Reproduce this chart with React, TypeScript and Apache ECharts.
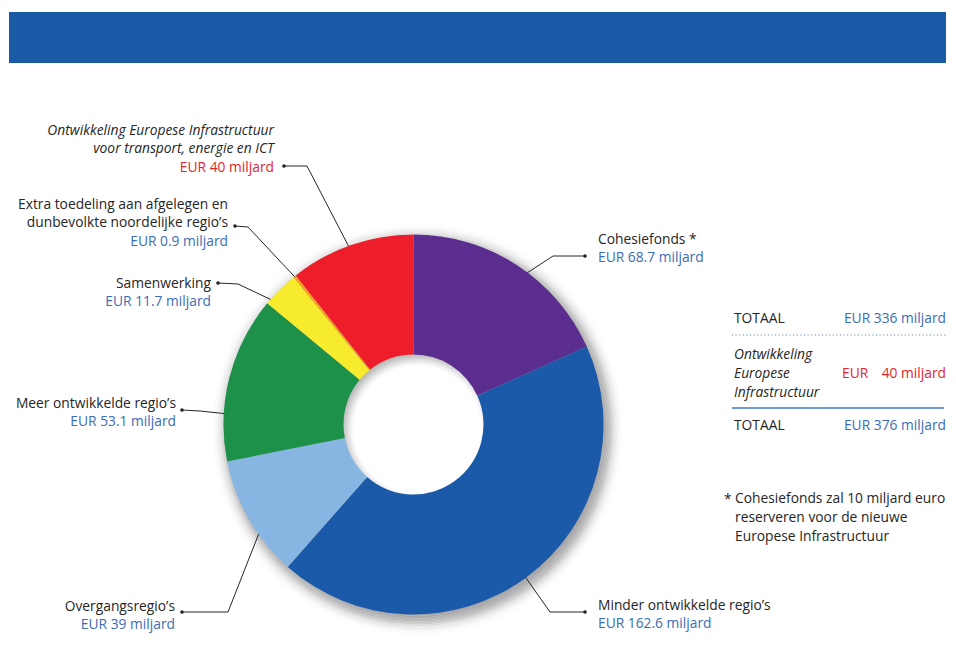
import React, { useEffect, useRef } from "react";
import * as echarts from "echarts";

// ---- data ----
const categories = [
  "Cohesiefonds *",
  "Minder ontwikkelde regio’s",
  "Overgangsregio’s",
  "Meer ontwikkelde regio’s",
  "Samenwerking",
  "Extra toedeling aan afgelegen en\ndunbevolkte noordelijke regio’s",
  "Ontwikkeling Europese Infrastructuur\nvoor transport, energie en ICT",
];
const values = [68.7, 162.6, 39, 53.1, 11.7, 0.9, 40];
const infraIndex = 6;
const footnoteLines = [
  "Cohesiefonds zal 10 miljard euro",
  "reserveren voor de nieuwe",
  "Europese Infrastructuur",
];
const infraTableLines = ["Ontwikkeling", "Europese", "Infrastructuur"];

// ---- styles / layout ----
const sliceColors = ["#5b2d8e", "#1b5aa8", "#86b6e1", "#1d914a", "#f6eb2c", "#f5a21e", "#ee1d2a"];
const BLUE_TXT = "#3b6db5";
const RED_TXT = "#e8232d";
const DARK = "#262626";
const FONT = "'Open Sans', sans-serif";
const FS = 13.8;
const LH = 18.5;
const CX = 413.5;
const CY = 424.5;
const R_IN = 70;
const R_OUT = 190;
const SH_DX = 4;
const SH_DY = 5;
// shadow profile: [distance from shadow centre, alpha]
const shadowProfile = [
  [64, 0],
  [68, 0.1],
  [74, 0.3],
  [80, 0.42],
  [186, 0.42],
  [192, 0.3],
  [197, 0.12],
  [202, 0.03],
  [206, 0],
];
const labelSide = ["r", "r", "l", "l", "l", "l", "l"];
const labelPos = [
  [598, 238],
  [598, 604],
  [175, 605],
  [176, 402],
  [211, 282],
  [228, 203],
  [274, 129],
];
const labelDot = [
  [585, 256],
  [585, 612],
  [182, 612],
  [182, 410],
  [218, 283],
  [235, 226],
  [284, 166],
];
const labelElbow = [
  [553, 256],
  [550, 612],
  [228, 612],
  [200, 411],
  [238, 284],
  [248, 227],
  [307, 166],
];
const anchorFrac = [0.54, 0.5, 0.41, 0.28, 0.28, 0.5, 0.5];
const anchorR = [178, 170, 180, 172, 173, 186, 170];

function shadowAlpha(d: number) {
  for (let k = 0; k < shadowProfile.length - 1; k++) {
    const [d0, a0] = shadowProfile[k];
    const [d1, a1] = shadowProfile[k + 1];
    if (d >= d0 && d <= d1) return a0 + ((a1 - a0) * (d - d0)) / (d1 - d0);
  }
  return 0;
}

function greyFor(a: number) {
  const c = (v: number) => Math.round(255 - a * (255 - v));
  const h = (n: number) => n.toString(16).padStart(2, "0");
  return "#" + h(c(45)) + h(c(45)) + h(c(50));
}

export default function App() {
  const ref = useRef<HTMLDivElement>(null);
  useEffect(() => {
    if (!ref.current) return;
    const chart = echarts.init(ref.current, undefined, { renderer: "svg" });
    const total = values.reduce((a, b) => a + b, 0);
    const starts: number[] = [];
    let acc = 0;
    values.forEach((v) => {
      starts.push(acc);
      acc += v;
    });
    const anchor = (i: number) => {
      const a = ((starts[i] + anchorFrac[i] * values[i]) / total) * Math.PI * 2;
      return [CX + anchorR[i] * Math.sin(a), CY - anchorR[i] * Math.cos(a)];
    };
    const fmtVal = (v: number) => `EUR ${v} miljard`;

    const data = values.map((v, i) => ({
      name: categories[i],
      value: v,
      itemStyle: { color: sliceColors[i] },
    }));

    const graphics: any[] = [
      { type: "rect", shape: { x: 9, y: 12, width: 937, height: 51 }, style: { fill: "#1a5ba8" } },
    ];
    // soft shadow made of thin opaque grey rings (blended against white)
    const bands: number[][] = [];
    const step = 1.5;
    for (let d = 64; d < 80; d += step) bands.push([d, Math.min(d + step, 80)]);
    bands.push([80, 186]);
    for (let d = 186; d < 206; d += step) bands.push([d, Math.min(d + step, 206)]);
    bands.forEach(([r0, r1]) => {
      const a = shadowAlpha((r0 + r1) / 2);
      if (a <= 0.004) return;
      graphics.push({
        type: "ring",
        silent: true,
        shape: { cx: CX + SH_DX, cy: CY + SH_DY, r: r1 + 0.3, r0 },
        style: { fill: greyFor(a) },
      });
    });
    labelDot.forEach((d) => {
      graphics.push({ type: "circle", shape: { cx: d[0], cy: d[1], r: 1.8 }, style: { fill: DARK }, z: 10 });
    });
    const txt = (text: string, x: number, y: number, fill: string, align = "left", italic = false) => ({
      type: "text",
      x,
      y,
      style: {
        text,
        fill,
        font: `${italic ? "italic " : ""}${FS}px ${FONT}`,
        textAlign: align,
        textVerticalAlign: "middle",
      },
    });
    const grand = total;
    const withoutInfra = Math.round((total - values[infraIndex]) * 10) / 10;
    graphics.push(txt("TOTAAL", 734, 317, DARK));
    graphics.push(txt(fmtVal(withoutInfra), 946, 317, BLUE_TXT, "right"));
    graphics.push({
      type: "line",
      shape: { x1: 732, y1: 335, x2: 946, y2: 335 },
      style: { stroke: "#4a7cc0", lineWidth: 1, lineDash: [1, 2.6] },
    });
    infraTableLines.forEach((t, k) => graphics.push(txt(t, 734, 353 + k * 19, DARK, "left", true)));
    graphics.push(txt("EUR", 842, 372, RED_TXT));
    graphics.push(txt(`${values[infraIndex]} miljard`, 946, 372, RED_TXT, "right"));
    graphics.push({
      type: "line",
      shape: { x1: 732, y1: 408, x2: 944, y2: 408 },
      style: { stroke: "#6b9bd2", lineWidth: 2 },
    });
    graphics.push(txt("TOTAAL", 734, 424, DARK));
    graphics.push(txt(fmtVal(Math.round(grand * 10) / 10), 946, 424, BLUE_TXT, "right"));
    graphics.push(txt("*", 724, 498, DARK));
    footnoteLines.forEach((t, k) => graphics.push(txt(t, 735, 497 + k * 19, DARK)));

    const rich: any = {};
    ["l", "r"].forEach((s) => {
      const align = s === "l" ? "right" : "left";
      rich["n" + s] = { color: DARK, fontSize: FS, fontFamily: FONT, lineHeight: LH, align };
      rich["i" + s] = { color: DARK, fontSize: FS, fontFamily: FONT, lineHeight: LH, align, fontStyle: "italic" };
      rich["v" + s] = { color: BLUE_TXT, fontSize: FS, fontFamily: FONT, lineHeight: LH, align };
      rich["x" + s] = { color: RED_TXT, fontSize: FS, fontFamily: FONT, lineHeight: LH, align };
    });

    chart.setOption({
      animation: false,
      graphic: graphics,
      series: [
        {
          type: "pie",
          z: 2,
          center: [CX, CY],
          radius: [R_IN, R_OUT],
          startAngle: 90,
          clockwise: true,
          avoidLabelOverlap: false,
          data,
          label: {
            show: true,
            position: "outside",
            rich,
            formatter: (p: any) => {
              const i = p.dataIndex;
              const s = labelSide[i];
              const nameStyle = (i === infraIndex ? "i" : "n") + s;
              const valStyle = (i === infraIndex ? "x" : "v") + s;
              const lines = String(p.name)
                .split("\n")
                .map((l) => `{${nameStyle}|${l}}`);
              lines.push(`{${valStyle}|${fmtVal(p.value)}}`);
              return lines.join("\n");
            },
          },
          labelLine: {
            show: true,
            lineStyle: { color: DARK, width: 1 },
          },
          labelLayout: (p: any) => {
            const i = p.dataIndex;
            const lines = String(categories[i]).split("\n").length + 1;
            const pos = labelPos[i];
            return {
              x: pos[0],
              y: pos[1] - LH / 2 + (lines * LH) / 2,
              align: labelSide[i] === "l" ? "right" : "left",
              verticalAlign: "middle",
              labelLinePoints: [anchor(i), labelElbow[i], labelDot[i]],
            };
          },
        },
      ],
    });
    return () => chart.dispose();
  }, []);
  return (
    <div
      ref={ref}
      style={{ position: "fixed", left: 0, top: 0, width: 956, height: 654, background: "#ffffff" }}
    />
  );
}
